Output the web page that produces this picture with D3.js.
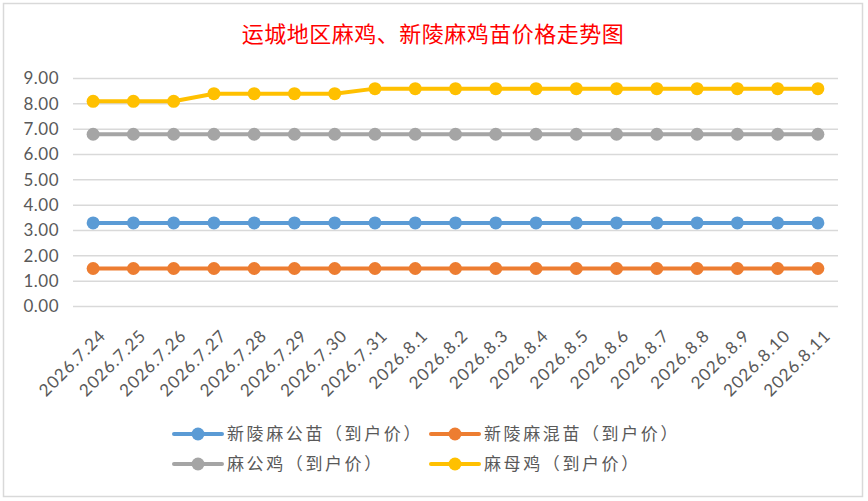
<!DOCTYPE html>
<html lang="zh">
<head>
    <meta charset="UTF-8">
    <title>运城地区麻鸡、新陵麻鸡苗价格走势图</title>
    <style>
        body { margin: 0; padding: 0; background: #fff; }
        .axis text { font-family: Lato, "Open Sans", sans-serif; font-size: 17px; fill: #595959; }
        .axis .domain { display: none; }
        .xaxis text { letter-spacing: 1px; }
        .yaxis text { letter-spacing: 0.5px; }
        .grid line { stroke: #d9d9d9; stroke-width: 1.5; }
        .legend text { font-family: "Noto Sans CJK SC", sans-serif; font-size: 17px; fill: #595959; letter-spacing: 2.6px; }
    </style>
</head>
<body>
<script src="https://d3js.org/d3.v7.min.js"></script>
<script>
    // 数据
    const dates = ["2026.7.24", "2026.7.25", "2026.7.26", "2026.7.27", "2026.7.28", "2026.7.29", "2026.7.30",
        "2026.7.31", "2026.8.1", "2026.8.2", "2026.8.3", "2026.8.4", "2026.8.5", "2026.8.6", "2026.8.7",
        "2026.8.8", "2026.8.9", "2026.8.10", "2026.8.11"];
    const seriesNames = ["新陵麻公苗（到户价）", "新陵麻混苗（到户价）", "麻公鸡（到户价）", "麻母鸡（到户价）"];
    const gongMiao = [3.3, 3.3, 3.3, 3.3, 3.3, 3.3, 3.3, 3.3, 3.3, 3.3, 3.3, 3.3, 3.3, 3.3, 3.3, 3.3, 3.3, 3.3, 3.3];
    const hunMiao = [1.5, 1.5, 1.5, 1.5, 1.5, 1.5, 1.5, 1.5, 1.5, 1.5, 1.5, 1.5, 1.5, 1.5, 1.5, 1.5, 1.5, 1.5, 1.5];
    const gongJi = [6.8, 6.8, 6.8, 6.8, 6.8, 6.8, 6.8, 6.8, 6.8, 6.8, 6.8, 6.8, 6.8, 6.8, 6.8, 6.8, 6.8, 6.8, 6.8];
    const muJi = [8.1, 8.1, 8.1, 8.4, 8.4, 8.4, 8.4, 8.6, 8.6, 8.6, 8.6, 8.6, 8.6, 8.6, 8.6, 8.6, 8.6, 8.6, 8.6];
    const yTicks = [0, 1, 2, 3, 4, 5, 6, 7, 8, 9];
    const colors = ["#5b9bd5", "#ed7d31", "#a5a5a5", "#ffc000"];

    const series = [gongMiao, hunMiao, gongJi, muJi].map((v, i) => ({ name: seriesNames[i], values: v, color: colors[i] }));

    const W = 868, H = 501;
    const svg = d3.select("body").append("svg")
        .attr("width", W)
        .attr("height", H);

    // 图表外框
    svg.append("rect")
        .attr("x", 3.5).attr("y", 3.5)
        .attr("width", 859).attr("height", 493)
        .attr("fill", "#fff")
        .attr("stroke", "#d9d9d9")
        .attr("stroke-width", 1.5);

    const x = d3.scalePoint().domain(dates).range([73, 838]).padding(0.5);
    const y = d3.scaleLinear().domain([0, 9]).range([306.5, 78.5]);

    // 网格线
    svg.append("g")
        .attr("class", "grid")
        .selectAll("line")
        .data(yTicks)
        .enter().append("line")
        .attr("x1", 73).attr("x2", 838)
        .attr("y1", d => y(d)).attr("y2", d => y(d));

    // Y轴
    svg.append("g")
        .attr("class", "axis yaxis")
        .attr("transform", "translate(73,0)")
        .call(d3.axisLeft(y).tickValues(yTicks).tickFormat(d3.format(".2f")).tickSize(0).tickPadding(14));

    // X轴
    svg.append("g")
        .attr("class", "axis xaxis")
        .attr("transform", "translate(0," + y(0) + ")")
        .call(d3.axisBottom(x).tickSize(0))
        .selectAll("text")
        .attr("x", 0).attr("y", 0)
        .attr("dy", "0.35em")
        .attr("transform", "translate(9,26) rotate(-45)")
        .style("text-anchor", "end");

    // 折线
    const line = d3.line()
        .x((d, i) => x(dates[i]))
        .y(d => y(d));

    const sg = svg.selectAll(".series")
        .data(series)
        .enter().append("g")
        .attr("class", "series");

    sg.append("path")
        .attr("d", d => line(d.values))
        .attr("fill", "none")
        .attr("stroke", d => d.color)
        .attr("stroke-width", 4)
        .attr("stroke-linejoin", "round");

    sg.selectAll("circle")
        .data(d => d.values.map((v, i) => ({ v: v, i: i, color: d.color })))
        .enter().append("circle")
        .attr("cx", d => x(dates[d.i]))
        .attr("cy", d => y(d.v))
        .attr("r", 6.5)
        .attr("fill", d => d.color);

    // 标题
    svg.append("text")
        .attr("x", 433)
        .attr("y", 42)
        .attr("text-anchor", "middle")
        .style("font-family", "'Noto Sans CJK SC', sans-serif")
        .style("font-size", "22px")
        .style("letter-spacing", "0.5px")
        .style("fill", "#ff0000")
        .text("运城地区麻鸡、新陵麻鸡苗价格走势图");

    // 图例
    const legendPos = [[174, 434], [431, 434], [174, 464], [431, 464]];
    const lg = svg.append("g")
        .attr("class", "legend")
        .selectAll("g")
        .data(series)
        .enter().append("g")
        .attr("transform", (d, i) => "translate(" + legendPos[i][0] + "," + legendPos[i][1] + ")");

    lg.append("line")
        .attr("x1", 0).attr("x2", 48)
        .attr("stroke", d => d.color)
        .attr("stroke-width", 4)
        .attr("stroke-linecap", "round");

    lg.append("circle")
        .attr("cx", 24)
        .attr("r", 6.5)
        .attr("fill", d => d.color);

    lg.append("text")
        .attr("x", 53)
        .attr("dy", "0.35em")
        .text(d => d.name);
</script>
</body>
</html>
